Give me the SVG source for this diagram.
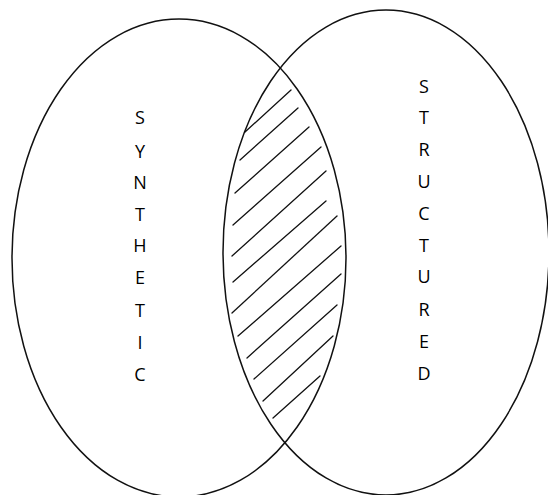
<svg xmlns="http://www.w3.org/2000/svg" width="548" height="495" viewBox="0 0 548 495">
  <style>
    .set { fill: none; stroke: #111; stroke-width: 1.5; }
    .hatch { stroke: #111; stroke-width: 1.3; stroke-linecap: round; fill: none; }
    .lbl { font-family: "Open Sans", "Liberation Sans", Arial, sans-serif; font-size: 18px; fill: #000; text-anchor: middle; }
  </style>
  <rect width="548" height="495" fill="#fff"/>
  <g id="synthetic">
    <ellipse class="set" cx="179" cy="258" rx="167" ry="239"/>
    <text class="lbl" x="140" y="124">S</text>
    <text class="lbl" x="140" y="158">Y</text>
    <text class="lbl" x="140" y="189">N</text>
    <text class="lbl" x="140" y="221">T</text>
    <text class="lbl" x="140" y="252">H</text>
    <text class="lbl" x="140" y="284">E</text>
    <text class="lbl" x="140" y="317">T</text>
    <text class="lbl" x="140" y="349">I</text>
    <text class="lbl" x="140" y="381">C</text>
  </g>
  <g id="structured">
    <ellipse class="set" cx="386" cy="252.5" rx="163" ry="242.5"/>
    <text class="lbl" x="424" y="93">S</text>
    <text class="lbl" x="424" y="124">T</text>
    <text class="lbl" x="424" y="156">R</text>
    <text class="lbl" x="424" y="188">U</text>
    <text class="lbl" x="424" y="220">C</text>
    <text class="lbl" x="424" y="252">T</text>
    <text class="lbl" x="424" y="283">U</text>
    <text class="lbl" x="424" y="316">R</text>
    <text class="lbl" x="424" y="348">E</text>
    <text class="lbl" x="424" y="380">D</text>
  </g>
  <g id="intersection-hatch">
    <line class="hatch" x1="245" y1="132" x2="291" y2="90"/>
    <line class="hatch" x1="240" y1="160" x2="298" y2="108"/>
    <line class="hatch" x1="235" y1="193" x2="309" y2="127"/>
    <line class="hatch" x1="233" y1="225" x2="321" y2="147"/>
    <line class="hatch" x1="232" y1="256" x2="326" y2="171"/>
    <line class="hatch" x1="233" y1="282" x2="326" y2="201"/>
    <line class="hatch" x1="232" y1="313" x2="337" y2="216"/>
    <line class="hatch" x1="238" y1="336" x2="341" y2="246"/>
    <line class="hatch" x1="247" y1="358" x2="341" y2="274"/>
    <line class="hatch" x1="254" y1="379" x2="337" y2="305"/>
    <line class="hatch" x1="263" y1="401" x2="333" y2="336"/>
    <line class="hatch" x1="273" y1="418" x2="320" y2="376"/>
  </g>
  <g id="connectors"/>
</svg>
